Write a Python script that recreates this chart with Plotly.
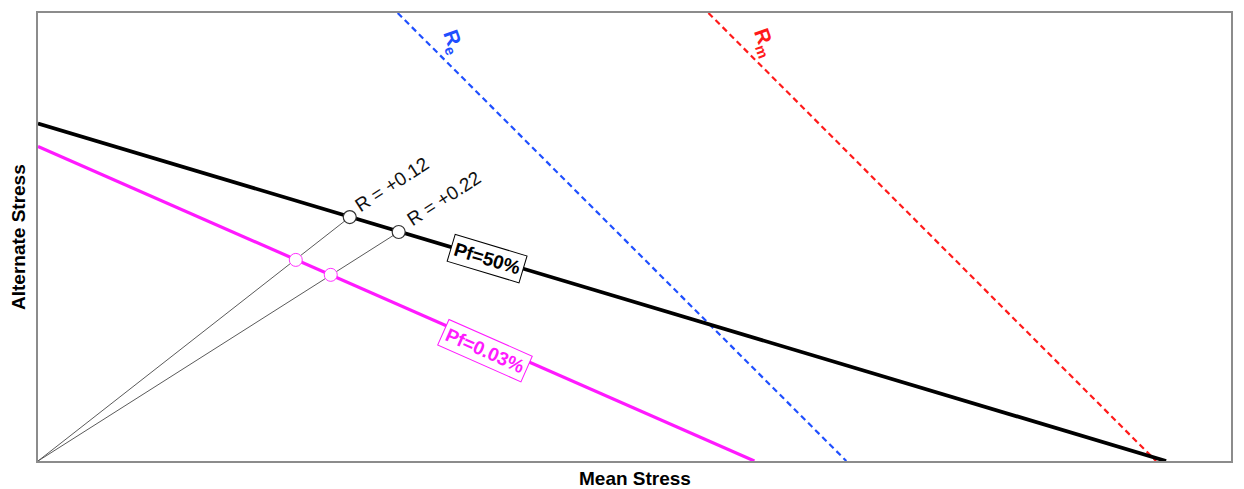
import plotly.graph_objects as go

# Line end points (mean stress, alternate stress) in arbitrary stress units
pf50_x = [0, 1129]
pf50_y = [339, 0]
pf003_x = [0, 717]
pf003_y = [316, 0]
re_x = [360, 809]
re_y = [450, 0]
rm_x = [671, 1119]
rm_y = [450, 0]

# Load lines (from origin to Pf=50% curve)
load1_x = [0, 312]
load1_y = [0, 245]
load2_x = [0, 361]
load2_y = [0, 230]

# Intersection markers
pts50_x = [312, 361]
pts50_y = [245, 230]
pts003_x = [258, 293]
pts003_y = [202, 187]

FONT = "Liberation Sans, Arial, sans-serif"

fig = go.Figure()
fig.add_trace(go.Scatter(x=load1_x, y=load1_y, mode="lines",
                         line=dict(color="#5a5a5a", width=1), showlegend=False))
fig.add_trace(go.Scatter(x=load2_x, y=load2_y, mode="lines",
                         line=dict(color="#5a5a5a", width=1), showlegend=False))
fig.add_trace(go.Scatter(x=re_x, y=re_y, mode="lines",
                         line=dict(color="#1f4fff", width=2.2, dash="6px,4px"), showlegend=False))
fig.add_trace(go.Scatter(x=rm_x, y=rm_y, mode="lines",
                         line=dict(color="#ff1a1a", width=2.2, dash="6px,4px"), showlegend=False))
fig.add_trace(go.Scatter(x=pf003_x, y=pf003_y, mode="lines",
                         line=dict(color="#ff1aff", width=3.2), showlegend=False))
fig.add_trace(go.Scatter(x=pf50_x, y=pf50_y, mode="lines",
                         line=dict(color="#000000", width=3.8), showlegend=False))
fig.add_trace(go.Scatter(x=pts003_x, y=pts003_y, mode="markers",
                         marker=dict(size=13, color="white", line=dict(color="#ff33ff", width=1)),
                         showlegend=False))
fig.add_trace(go.Scatter(x=pts50_x, y=pts50_y, mode="markers",
                         marker=dict(size=13, color="white", line=dict(color="#333333", width=1.2)),
                         showlegend=False))

annotations = [
    dict(x=354, y=278, text="R = +0.12", showarrow=False, textangle=-33,
         xanchor="center", yanchor="middle",
         font=dict(family=FONT, size=19, color="#111111")),
    dict(x=406, y=264, text="R = +0.22", showarrow=False, textangle=-33,
         xanchor="center", yanchor="middle",
         font=dict(family=FONT, size=19, color="#111111")),
    dict(x=449, y=203, text="<b>Pf=50%</b>", showarrow=False, textangle=16.7,
         xanchor="center", yanchor="middle",
         font=dict(family=FONT, size=19, color="#000000"),
         bgcolor="white", bordercolor="#000000", borderwidth=1, borderpad=3),
    dict(x=447, y=111, text="<b>Pf=0.03%</b>", showarrow=False, textangle=23.8,
         xanchor="center", yanchor="middle",
         font=dict(family=FONT, size=19, color="#ff1aff"),
         bgcolor="white", bordercolor="#ff1aff", borderwidth=1, borderpad=3),
    dict(x=415, y=421, text="<b>R<sub>e</sub></b>", showarrow=False, textangle=70,
         xanchor="center", yanchor="middle",
         font=dict(family=FONT, size=21, color="#1f4fff")),
    dict(x=727, y=420, text="<b>R<sub>m</sub></b>", showarrow=False, textangle=70,
         xanchor="center", yanchor="middle",
         font=dict(family=FONT, size=21, color="#ff1a1a")),
    dict(x=0.5, y=0, xref="paper", yref="paper", yshift=-17, text="<b>Mean Stress</b>",
         xanchor="center", yanchor="middle",
         showarrow=False, font=dict(family=FONT, size=19, color="#000000")),
    dict(x=0, y=0.5, xref="paper", yref="paper", xshift=-20, text="<b>Alternate Stress</b>",
         xanchor="center", yanchor="middle",
         textangle=-90, showarrow=False, font=dict(family=FONT, size=19, color="#000000")),
]

fig.update_layout(
    width=1244, height=489,
    margin=dict(l=38, r=12, t=11, b=28),
    paper_bgcolor="white", plot_bgcolor="white",
    annotations=annotations,
    xaxis=dict(range=[0, 1194], showgrid=False, zeroline=False, showticklabels=False,
               ticks="", showline=True, linecolor="#8c8c8c", linewidth=1.5, mirror=True),
    yaxis=dict(range=[0, 450], showgrid=False, zeroline=False, showticklabels=False,
               ticks="", showline=True, linecolor="#8c8c8c", linewidth=1.5, mirror=True),
)

fig.write_html("out.html")
